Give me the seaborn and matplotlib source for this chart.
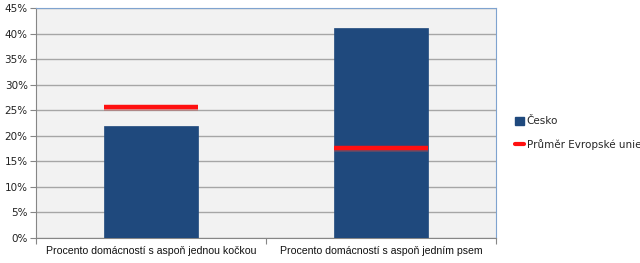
import matplotlib
matplotlib.use("Agg")
import matplotlib.pyplot as plt
import seaborn as sns
import pandas as pd
from matplotlib.patches import Patch
from matplotlib.lines import Line2D
from matplotlib.ticker import MultipleLocator, FuncFormatter, FixedLocator

categories = ["Procento domácností s aspoň jednou kočkou", "Procento domácností s aspoň jedním psem"]
cesko = [22.0, 41.0]
eu_avg = [25.7, 17.6]

sns.set_style("white")
plt.rcParams['font.family'] = ['DejaVu Sans']

df = pd.DataFrame({"cat": categories, "val": cesko})

fig = plt.figure(figsize=(6.4, 2.63), dpi=100)
ax = fig.add_axes([36/640, 25/263, 460/640, 230/263])
ax.set_facecolor("#F2F2F2")

bw = 0.41
sns.barplot(data=df, x="cat", y="val", color="#1F497D", width=bw, ax=ax,
            saturation=1, edgecolor="#1F497D", linewidth=0.5, zorder=3)
for i, v in enumerate(eu_avg):
    ax.hlines(v - 0.25, i - bw/2, i + bw/2, color="#C0504D", alpha=0.45, linewidth=4, zorder=4)
    ax.hlines(v, i - bw/2, i + bw/2, color="#FF1010", linewidth=3.2, zorder=5)

ax.set_xlim(-0.5, 1.5)
ax.set_ylim(0, 45)
ax.yaxis.set_major_locator(MultipleLocator(5))
ax.yaxis.set_major_formatter(FuncFormatter(lambda v, p: f"{int(v)}%"))
ax.grid(axis="y", color="#A6A6A6", linewidth=1, zorder=1)
ax.set_axisbelow(True)
ax.set_xlabel("")
ax.set_ylabel("")

ax.xaxis.set_minor_locator(FixedLocator([-0.5, 0.5, 1.5]))
ax.tick_params(axis="x", which="major", bottom=False, length=0, labelsize=7.6, pad=6)
ax.tick_params(axis="x", which="minor", bottom=True, length=4, width=0.8, color="#868686", direction="out")
ax.tick_params(axis="y", left=True, length=4, width=0.8, color="#868686", direction="out", labelsize=7.5, pad=2)
for lab in ax.get_xticklabels():
    lab.set_family(["Liberation Sans Narrow", "Liberation Sans"])
    lab.set_color("#111111")
for lab in ax.get_yticklabels():
    lab.set_color("#222222")

ax.spines["left"].set_color("#868686")
ax.spines["bottom"].set_color("#868686")
ax.spines["top"].set_color("#7FA3CF")
ax.spines["right"].set_color("#7FA3CF")
for s in ax.spines.values():
    s.set_linewidth(0.8)

handles = [Patch(facecolor="#1F497D", edgecolor="#1F497D"),
           Line2D([0], [0], color="#FF1010", linewidth=3)]
leg = fig.legend(handles, ["Česko", "Průměr Evropské unie"], loc="center left",
                 bbox_to_anchor=(506/640, 1 - 133/263), frameon=False,
                 fontsize=7.5, handlelength=0.8, handleheight=0.8,
                 handletextpad=0.3, labelspacing=1.2)

fig.savefig("out.png", dpi=100)
